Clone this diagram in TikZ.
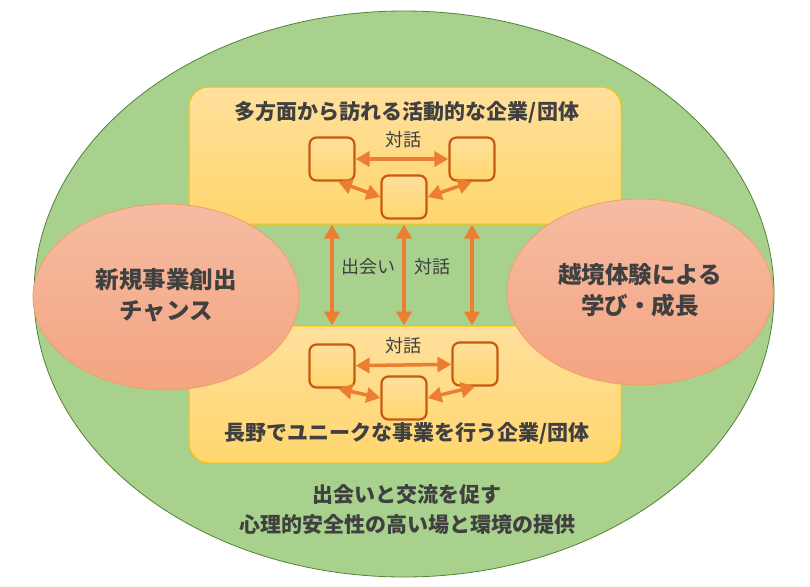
\documentclass[tikz,border=0pt]{standalone}
\usepackage{fontspec}
\setmainfont{Noto Sans CJK JP}
\usetikzlibrary{shapes.geometric,arrows.meta}

\definecolor{bgreen}{RGB}{169,209,142}
\definecolor{dgreen}{RGB}{84,130,53}
\definecolor{ylite}{RGB}{255,224,156}
\definecolor{ydeep}{RGB}{255,214,110}
\definecolor{yline}{RGB}{255,192,0}
\definecolor{ptop}{RGB}{245,188,163}
\definecolor{pbot}{RGB}{244,164,128}
\definecolor{pline}{RGB}{240,160,100}
\definecolor{obox}{RGB}{197,90,17}
\definecolor{oarr}{RGB}{237,125,49}
\definecolor{tgray}{RGB}{64,64,64}

\begin{document}
\begin{tikzpicture} [
        x=1pt, y=-1pt,
        base/.style={ellipse, draw=dgreen, line width=0.8pt, fill=bgreen,
            minimum width=740pt, minimum height=566pt, inner sep=0pt},
        org/.style={rectangle, draw=yline, line width=1pt, rounded corners=20pt,
            top color=ylite, bottom color=ydeep,
            minimum width=432pt, minimum height=137pt, inner sep=0pt},
        pink/.style={ellipse, draw=pline, line width=0.8pt,
            top color=ptop, bottom color=pbot,
            minimum width=266pt, minimum height=186pt, inner sep=0pt},
        box/.style={rectangle, draw=obox, line width=2.2pt, rounded corners=7pt,
            top color=ylite, bottom color=ydeep,
            minimum width=45pt, minimum height=43pt, inner sep=0pt},
        arr/.style={oarr, line width=3.5pt,
            {Triangle[length=14pt,width=15pt]}-{Triangle[length=14pt,width=15pt]}},
        ttl/.style={text=tgray, font=\bfseries\fontsize{21}{30}\selectfont, align=center},
        big/.style={text=tgray, font=\bfseries\fontsize{23.5}{31}\selectfont, align=center},
        lbl/.style={text=tgray, font=\fontsize{18}{22}\selectfont}
    ]

    \useasboundingbox (0,0) rectangle (810,586);

    % 外側の場
    \node[base] (field) at (404,294) {};

    % 企業/団体
    \node[org] (up) at (405,155.5) {};
    \node[org] (low) at (405,394.5) {};

    % 左右の成果
    \node[pink] (chance) at (166,297) {};
    \node[pink] (growth) at (640,292) {};
    \node[big] at (166,295) {新規事業創出\\チャンス};
    \node[big] at (640,290) {越境体験による\\学び・成長};

    \node[ttl] (uptitle) at (407,112) {多方面から訪れる活動的な企業/団体};
    \node[ttl] (lowtitle) at (407,433) {長野でユニークな事業を行う企業/団体};
    \node[ttl] (fieldtitle) at (407,510) {出会いと交流を促す\\心理的安全性の高い場と環境の提供};

    % 上の対話
    \node[box] (l1) at (332,159) {};
    \node[box] (r1) at (472,159) {};
    \node[box] (m1) at (404,197) {};
    \node[lbl] (talk1) at (403,140) {対話};
    \draw[arr] (l1) -- (r1);
    \draw[arr] (l1.-75) -- (m1.west);
    \draw[arr] (r1.south) -- (m1.east);

    % 下の対話
    \node[box] (l2) at (332,366) {};
    \node[box] (r2) at (475,364) {};
    \node[box] (m2) at (404,398) {};
    \node[lbl] (talk2) at (403,346) {対話};
    \draw[arr] (l2) -- (r2);
    \draw[arr] (l2.-75) -- (m2.west);
    \draw[arr] (r2.south) -- (m2.east);

    % 上下をつなぐ
    \draw[arr] (l1 |- up.south) -- (l1 |- low.north);
    \draw[arr] (m1 |- up.south) -- (m1 |- low.north);
    \draw[arr] (r1 |- up.south) -- (r1 |- low.north);
    \node[lbl] (meet) at (368,267) {出会い};
    \node[lbl] (talk3) at (432,267) {対話};

\end{tikzpicture}
\end{document}
